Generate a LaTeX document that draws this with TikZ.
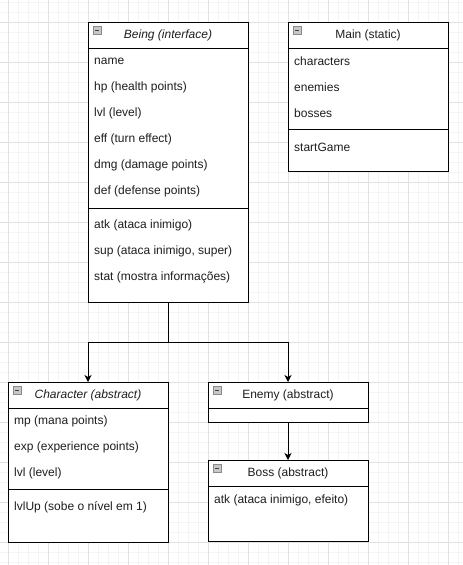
\documentclass[tikz,border=0pt]{standalone}
\usepackage{fontspec}
\setmainfont{Liberation Sans}
\usetikzlibrary{arrows.meta}
\definecolor{gridmajor}{HTML}{E2E2E2}
\definecolor{gridminor}{HTML}{F4F4F4}
\definecolor{txt}{HTML}{1E1E1E}
\definecolor{iconfill}{HTML}{C8C8C8}
\definecolor{iconline}{HTML}{8A8A8A}
\begin{document}
\begin{tikzpicture}[x=1pt,y=-1pt,
  box/.style={draw=black, line width=1pt, fill=white, anchor=north west, inner sep=0pt, outer sep=0pt},
  row/.style={anchor=west, inner sep=0pt, font=\fontsize{12}{14}\selectfont, text=txt},
  ttl/.style={inner sep=0pt, font=\fontsize{12}{14}\selectfont, text=txt},
  sepline/.style={draw=black, line width=1pt},
  conn/.style={draw=black, line width=1pt, -{Stealth[length=7pt,width=7pt,inset=2pt]}},
  icon/.style={draw=iconline, fill=iconfill, minimum width=8pt, minimum height=8pt, inner sep=0pt, anchor=north west, line width=0.8pt,
    path picture={\draw[black!75, line width=1pt] ([xshift=2pt]path picture bounding box.west) -- ([xshift=-2pt]path picture bounding box.east);}},
  gmin/.style={draw=gridminor, line width=1pt},
  gmaj/.style={draw=gridmajor, line width=1pt}]
\useasboundingbox[fill=white] (0,0) rectangle (463,565);
% grid
\foreach \x in {8,18,...,458} \draw[gmin] (\x,0) -- (\x,565);
\foreach \y in {2,12,...,562} \draw[gmin] (0,\y) -- (463,\y);
\foreach \x in {8,48,...,448} \draw[gmaj] (\x,0) -- (\x,565);
\foreach \y in {22,62,...,542} \draw[gmaj] (0,\y) -- (463,\y);

% Being
\node[box, minimum width=160pt, minimum height=280pt] (being) at (88,22) {};
\draw[sepline] (88,48) -- (248,48);
\draw[sepline] (88,208) -- (248,208);
\node[icon] (beingicon) at (93,26) {};
\node[ttl] (beingtitle) at (168,35) {\itshape Being (interface)};
\node[row] (b1) at (94,61) {name};
\node[row] (b2) at (94,87) {hp (health points)};
\node[row] (b3) at (94,113) {lvl (level)};
\node[row] (b4) at (94,139) {eff (turn effect)};
\node[row] (b5) at (94,165) {dmg (damage points)};
\node[row] (b6) at (94,191) {def (defense points)};
\node[row] (b7) at (94,225) {atk (ataca inimigo)};
\node[row] (b8) at (94,251) {sup (ataca inimigo, super)};
\node[row] (b9) at (94,277) {stat (mostra informações)};

% Main
\node[box, minimum width=160pt, minimum height=149pt] (main) at (288,22) {};
\draw[sepline] (288,48) -- (448,48);
\draw[sepline] (288,129.5) -- (448,129.5);
\node[icon] (mainicon) at (293,26) {};
\node[ttl] (maintitle) at (368,35) {Main (static)};
\node[row] (m1) at (294,61) {characters};
\node[row] (m2) at (294,87) {enemies};
\node[row] (m3) at (294,113) {bosses};
\node[row] (m4) at (294,147) {startGame};

% Character
\node[box, minimum width=160pt, minimum height=160pt] (char) at (8,382) {};
\draw[sepline] (8,408) -- (168,408);
\draw[sepline] (8,489.5) -- (168,489.5);
\node[icon] (charicon) at (13,386) {};
\node[ttl] (chartitle) at (88,395) {\itshape Character (abstract)};
\node[row] (c1) at (14,421) {mp (mana points)};
\node[row] (c2) at (14,447) {exp (experience points)};
\node[row] (c3) at (14,473) {lvl (level)};
\node[row] (c4) at (14,507) {lvlUp (sobe o nível em 1)};

% Enemy
\node[box, minimum width=160pt, minimum height=40pt] (enemy) at (208,382) {};
\draw[sepline] (208,408) -- (368,408);
\node[icon] (enemyicon) at (213,386) {};
\node[ttl] (enemytitle) at (288,395) {Enemy (abstract)};

% Boss
\node[box, minimum width=160pt, minimum height=81pt] (boss) at (208,460) {};
\draw[sepline] (208,486.5) -- (368,486.5);
\node[icon] (bossicon) at (213,464) {};
\node[ttl] (bosstitle) at (288,473) {Boss (abstract)};
\node[row] (x1) at (214,500) {atk (ataca inimigo, efeito)};

% connectors
\coordinate (split) at (168,342);
\draw[conn] (being.south) -- (split) -| (char.north);
\draw[conn] (being.south) -- (split) -| (enemy.north);
\draw[conn] (enemy.south) -- (boss.north);
\end{tikzpicture}
\end{document}
